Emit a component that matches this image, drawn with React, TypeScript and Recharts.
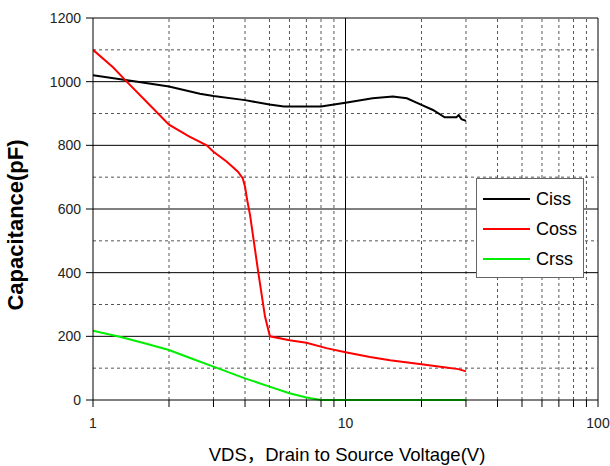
import { LineChart, Line, XAxis, YAxis, ReferenceLine, Legend } from "recharts";

// values
const cissV = [1, 1.5, 2, 2.65, 3, 4, 5, 5.7, 8, 10, 12.8, 15.4, 17.5, 20, 22.2, 24.7, 27.5, 28.1, 28.8, 30];
const cissC = [1020, 1000, 985, 962, 955, 942, 928, 922, 922, 934, 948, 953, 948, 927, 911, 888, 888, 895, 882, 877];

const cossV = [1, 1.2, 1.36, 1.6, 2, 2.4, 2.82, 3, 3.38, 3.75, 3.92, 4, 4.08, 4.19, 4.52, 4.8, 5.02, 6, 7, 8.4, 10, 12.5, 15, 20, 25, 28, 30];
const cossC = [1100, 1045, 1000, 943, 865, 828, 800, 780, 749, 717, 696, 670, 628, 580, 398, 262, 200, 188, 180, 163, 150, 135, 125, 112, 102, 97, 90];

const crssV = [1, 1.3, 1.6, 2, 2.5, 3, 4, 5, 6, 7, 8, 10, 20, 30];
const crssC = [218, 197, 178, 157, 128, 105, 68, 42, 21, 8, 0, 0, 0, 0];

const xTicks = [1, 2, 3, 4, 5, 6, 7, 8, 9, 10, 20, 30, 40, 50, 60, 70, 80, 90, 100];
const xLabels = [1, 10, 100];
const yTicks = [0, 200, 400, 600, 800, 1000, 1200];
const yMinor = [100, 300, 500, 700, 900, 1100];

const zip = (v: number[], c: number[]) => v.map((x, i) => ({ v: x, c: c[i] }));

const series = [
	{ name: "Ciss", color: "#000000", data: zip(cissV, cissC) },
	{ name: "Coss", color: "#ff0000", data: zip(cossV, cossC) },
	{ name: "Crss", color: "#00ee00", data: zip(crssV, crssC) },
];

const font = "'Liberation Sans', Arial, sans-serif";

const BoxLegend = ({ payload }: any) => (
	<div style={{ width: 108, height: 100, boxSizing: 'border-box', border: '1px solid #666', background: '#fff', paddingTop: 5, fontFamily: font }}>
		{(payload || []).map((p: any) => (
			<div key={p.value} style={{ height: 30, display: 'flex', alignItems: 'center', paddingLeft: 6 }}>
				<span style={{ display: 'inline-block', width: 47, height: 2.5, background: p.color, marginRight: 6 }} />
				<span style={{ fontSize: 18, color: '#000' }}>{p.value}</span>
			</div>
		))}
	</div>
);

export default function App() {
	return (
		<div style={{ position: 'fixed', left: 0, top: 0, width: 610, height: 466, background: '#fff', fontFamily: font }}>
			<LineChart width={610} height={466} margin={{ top: 18, right: 12, bottom: 0, left: 0 }}>
				<XAxis
					dataKey="v"
					type="number"
					scale="log"
					domain={[1, 100]}
					allowDataOverflow
					ticks={xTicks}
					interval={0}
					tickFormatter={(v) => (xLabels.includes(v) ? String(v) : '')}
					height={66}
					tickSize={7}
					tickMargin={11}
					stroke="#000"
					tick={{ fill: '#222', fontSize: 14, fontFamily: font }}
				/>
				<YAxis
					type="number"
					domain={[0, 1200]}
					ticks={yTicks}
					interval={0}
					width={93}
					tickSize={7}
					tickMargin={5}
					stroke="#000"
					tick={{ fill: '#222', fontSize: 14, fontFamily: font }}
				/>

				{xTicks.filter((v) => v !== 1).map((v) => (
					<ReferenceLine key={'x' + v} x={v} stroke={v === 10 || v === 100 ? '#000' : '#555'} strokeDasharray={v === 10 || v === 100 ? undefined : '3 3'} />
				))}
				{yMinor.map((v) => (
					<ReferenceLine key={'m' + v} y={v} stroke="#555" strokeDasharray="3 3" />
				))}
				{yTicks.filter((v) => v !== 0).map((v) => (
					<ReferenceLine key={'y' + v} y={v} stroke="#000" />
				))}

				{series.map((s) => (
					<Line
						key={s.name}
						data={s.data}
						dataKey="c"
						name={s.name}
						stroke={s.color}
						strokeWidth={2}
						dot={false}
						isAnimationActive={false}
					/>
				))}

				<Legend
					layout="vertical"
					align="center"
					verticalAlign="middle"
					content={<BoxLegend />}
					wrapperStyle={{ left: 476, top: 178, width: 108, height: 100 }}
				/>
			</LineChart>

			<div style={{ position: 'absolute', left: 347, top: 444, height: 22, lineHeight: '22px', fontSize: 18.5, whiteSpace: 'nowrap', transform: 'translateX(-50%)', color: '#000' }}>
				VDS<span style={{ fontFamily: "'Noto Sans CJK SC', sans-serif", lineHeight: 0 }}>，</span>Drain to Source Voltage(V)
			</div>
			<div style={{ position: 'absolute', left: 16, top: 225, width: 300, lineHeight: '26px', fontSize: 22, fontWeight: 'bold', textAlign: 'center', transform: 'translate(-50%, -50%) rotate(-90deg)', color: '#000' }}>
				Capacitance(pF)
			</div>
		</div>
	);
}
